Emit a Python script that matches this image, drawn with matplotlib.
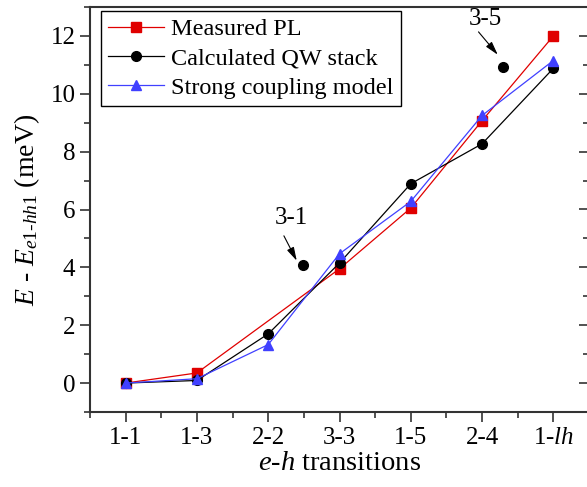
import numpy as np
import matplotlib
matplotlib.use('Agg')
import matplotlib.pyplot as plt
from matplotlib.ticker import MultipleLocator

plt.rcParams['font.family'] = 'Liberation Serif'
plt.rcParams['mathtext.fontset'] = 'custom'
plt.rcParams['mathtext.rm'] = 'Liberation Serif'
plt.rcParams['mathtext.it'] = 'Liberation Serif:italic'

# Данные
transitions = ['1-1', '1-3', '2-2', '3-3', '1-5', '2-4', r'1-$\mathit{lh}$']
measured_pl = [0.0, 0.35, np.nan, 3.95, 6.05, 9.07, 12.0]
calc_qw = [0.0, 0.09, 1.70, 4.15, 6.89, 8.27, 10.88]
strong_coupling = [0.0, 0.15, 1.33, 4.47, 6.28, 9.25, 11.15]
# отдельные точки 3-1 и 3-5
extra_names = ['3-1', '3-5']
extra_x = [3.49, 6.30]
extra_y = [4.08, 10.94]

x = np.arange(1, len(transitions) + 1)

fig = plt.figure(figsize=(5.87, 4.87), dpi=100)
ax = fig.add_axes([90 / 587, 1 - 412 / 487, 499 / 587, 405 / 487])

pl = np.array(measured_pl)
mask = ~np.isnan(pl)
ax.plot(x[mask], pl[mask], color='#e00000', marker='s', markersize=6.5, lw=0.9,
        label='Measured PL', zorder=3)
ax.plot(x, calc_qw, color='black', marker='o', markersize=7, lw=0.9,
        label='Calculated QW stack', zorder=3)
ax.plot(x, strong_coupling, color='#4040ff', marker='^', markersize=7.5, lw=0.9,
        label='Strong coupling model', zorder=4)
ax.plot(extra_x, extra_y, 'o', color='black', markersize=7, zorder=3)

# подписи со стрелками
txt_pos = [(3.32, 5.71), (6.04, 12.59)]
arr_start = [(3.22, 5.09), (5.95, 12.14)]
arr_end = [(3.40, 4.23), (6.22, 11.35)]
for name, (tx, ty), (sx, sy), (ex, ey) in zip(extra_names, txt_pos, arr_start, arr_end):
    ax.text(tx, ty, name, ha='center', va='center', fontsize=18)
    ax.annotate('', xy=(ex, ey), xytext=(sx, sy),
                arrowprops=dict(arrowstyle='-|>,head_length=0.9,head_width=0.25',
                                color='black', lw=0.8,
                                mutation_scale=9, shrinkA=0, shrinkB=0))

ax.set_xlim(0.5, 7.5)
ax.set_ylim(-1, 13)
ax.set_xticks(x)
ax.set_xticklabels(transitions)
ax.xaxis.set_minor_locator(MultipleLocator(0.5))
ax.yaxis.set_major_locator(MultipleLocator(2))
ax.yaxis.set_minor_locator(MultipleLocator(1))

ax.tick_params(axis='both', which='major', labelsize=18, length=7, width=1.2,
               direction='out', colors='#333333', labelcolor='black')
ax.tick_params(axis='both', which='minor', length=4, width=1.2, direction='out',
               colors='#333333')
ax.tick_params(axis='x', which='both', top=False)
for sp in ax.spines.values():
    sp.set_linewidth(1.5)
    sp.set_color('#333333')

# правая ось с внутренними засечками
sec = ax.secondary_yaxis('right')
sec.yaxis.set_major_locator(MultipleLocator(2))
sec.yaxis.set_minor_locator(MultipleLocator(1))
sec.tick_params(which='major', direction='in', length=7, width=1.2,
                colors='#333333', labelright=False)
sec.tick_params(which='minor', direction='in', length=4, width=1.2,
                colors='#333333')
sec.spines['right'].set_linewidth(1.5)
sec.spines['right'].set_color('#333333')

ax.set_xlabel(r'$\mathit{e}$-$\mathit{h}$ transitions', fontsize=20.5, labelpad=2)
ax.set_ylabel(r'$E$ - $E_{\mathit{e1‐hh1}}$ (meV)', fontsize=20, labelpad=6)

leg = ax.legend(loc='upper left', bbox_to_anchor=(0.022, 0.99), borderaxespad=0,
                fontsize=17.5, fancybox=False, edgecolor='black', framealpha=1,
                handlelength=2.3, handletextpad=0.3, labelspacing=0.3,
                borderpad=0.3)
leg.get_frame().set_linewidth(1.0)

fig.savefig('out.png', dpi=100)
